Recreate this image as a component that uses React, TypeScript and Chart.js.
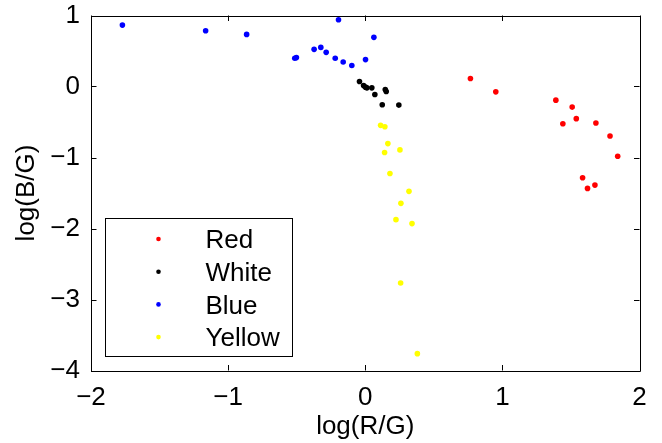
import React, { useEffect, useRef } from "react";
import { Chart, registerables } from "chart.js";

Chart.register(...registerables);

const seriesNames = ["Red", "White", "Blue", "Yellow"];
const seriesColors = ["#ff0000", "#000000", "#0000ff", "#ffff00"];

const redX = [0.767, 0.952, 1.39, 1.509, 1.441, 1.539, 1.682, 1.785, 1.841, 1.585, 1.621, 1.675];
const redY = [0.112, -0.075, -0.192, -0.29, -0.524, -0.453, -0.514, -0.697, -0.982, -1.286, -1.435, -1.389];

const whiteX = [-0.042, -0.012, 0.002, 0.012, 0.048, 0.07, 0.124, 0.146, 0.153, 0.245];
const whiteY = [0.07, 0.014, -0.009, -0.019, -0.019, -0.112, -0.257, -0.042, -0.07, -0.262];

const blueX = [-1.771, -1.164, -0.865, -0.514, -0.502, -0.373, -0.324, -0.285, -0.219, -0.195, -0.161, -0.098, 0.002, 0.063];
const blueY = [0.865, 0.785, 0.734, 0.397, 0.407, 0.523, 0.551, 0.481, 0.397, 0.94, 0.346, 0.295, 0.379, 0.692];

const yellowX = [0.112, 0.143, 0.165, 0.141, 0.253, 0.18, 0.319, 0.26, 0.224, 0.341, 0.258, 0.38];
const yellowY = [-0.547, -0.566, -0.804, -0.93, -0.893, -1.225, -1.477, -1.646, -1.875, -1.931, -2.768, -3.763];

const xTicks = [-2, -1, 0, 1, 2];
const yTicks = [-4, -3, -2, -1, 0, 1];

const FONT = "Liberation Sans, Arial, Helvetica, sans-serif";
const FS = 26;

const zip = (xs: number[], ys: number[]) => xs.map((x, i) => ({ x, y: ys[i] }));

const boxPlugin = {
  id: "matlabBox",
  afterDraw(chart: any) {
    const { ctx, chartArea } = chart;
    const { left, right, top, bottom } = chartArea;
    const xs = chart.scales.x;
    const ys = chart.scales.y;
    const tl = 5.5;
    ctx.save();
    ctx.strokeStyle = "#000";
    ctx.lineWidth = 1;
    ctx.beginPath();
    ctx.rect(Math.round(left) + 0.5, Math.round(top) + 0.5, Math.round(right - left), Math.round(bottom - top));
    ctx.stroke();
    ctx.beginPath();
    xTicks.forEach((v) => {
      const p = Math.round(xs.getPixelForValue(v)) + 0.5;
      ctx.moveTo(p, bottom);
      ctx.lineTo(p, bottom - tl);
      ctx.moveTo(p, top);
      ctx.lineTo(p, top + tl);
    });
    yTicks.forEach((v) => {
      const p = Math.round(ys.getPixelForValue(v)) + 0.5;
      ctx.moveTo(left, p);
      ctx.lineTo(left + tl, p);
      ctx.moveTo(right, p);
      ctx.lineTo(right - tl, p);
    });
    ctx.stroke();

    // legend
    const bx = Math.round(left + 14) + 0.5;
    const bw = 187;
    const bh = 138;
    const by = Math.round(bottom - 15 - bh) + 0.5;
    ctx.fillStyle = "#fff";
    ctx.fillRect(bx, by, bw, bh);
    ctx.strokeStyle = "#000";
    ctx.lineWidth = 1;
    ctx.strokeRect(bx, by, bw, bh);
    ctx.font = `${FS}px ${FONT}`;
    ctx.textAlign = "left";
    ctx.textBaseline = "alphabetic";
    chart.data.datasets.forEach((ds: any, i: number) => {
      const cy = by + 20.5 + i * 32.7;
      ctx.fillStyle = ds.backgroundColor;
      ctx.beginPath();
      ctx.arc(bx + 53, cy, 2.3, 0, Math.PI * 2);
      ctx.fill();
      ctx.fillStyle = "#000";
      ctx.fillText(ds.label, bx + 100, cy + 9.3);
    });
    ctx.restore();
  },
};

export default function App() {
  const ref = useRef<HTMLCanvasElement | null>(null);
  useEffect(() => {
    if (!ref.current) return;
    const seriesX = [redX, whiteX, blueX, yellowX];
    const seriesY = [redY, whiteY, blueY, yellowY];
    const chart = new Chart(ref.current, {
      type: "scatter",
      data: {
        datasets: seriesNames.map((name, i) => ({
          label: name,
          data: zip(seriesX[i], seriesY[i]),
          backgroundColor: seriesColors[i],
          borderColor: seriesColors[i],
          pointRadius: 2.8,
          pointBorderWidth: 0,
          pointHoverRadius: 2.8,
        })),
      },
      options: {
        animation: false,
        responsive: true,
        maintainAspectRatio: false,
        layout: { padding: { left: 0, right: 22.5, top: 15.5, bottom: 0 } },
        plugins: { legend: { display: false }, tooltip: { enabled: false } },
        scales: {
          x: {
            type: "linear",
            min: -2,
            max: 2,
            afterBuildTicks: (s: any) => {
              s.ticks = xTicks.map((v) => ({ value: v }));
            },
            afterFit: (s: any) => {
              s.height = 72.5;
              s.paddingLeft = 0;
              s.paddingRight = 0;
            },
            grid: { display: false, drawTicks: false },
            border: { display: false },
            ticks: {
              padding: 12,
              color: "#000",
              font: { family: FONT, size: FS },
              maxRotation: 0,
              autoSkip: false,
              callback: (v: any) => String(v).replace("-", "\u2212"),
            },
            title: {
              display: true,
              text: "log(R/G)",
              color: "#000",
              font: { family: FONT, size: FS },
              padding: { top: 0, bottom: 1 },
            },
          },
          y: {
            type: "linear",
            min: -4,
            max: 1,
            afterBuildTicks: (s: any) => {
              s.ticks = yTicks.map((v) => ({ value: v }));
            },
            afterFit: (s: any) => {
              s.width = 91;
              s.paddingTop = 0;
              s.paddingBottom = 0;
            },
            grid: { display: false, drawTicks: false },
            border: { display: false },
            ticks: {
              padding: 11,
              color: "#000",
              font: { family: FONT, size: FS },
              autoSkip: false,
              callback: (v: any) => String(v).replace("-", "\u2212"),
            },
            title: {
              display: true,
              text: "log(B/G)",
              color: "#000",
              font: { family: FONT, size: FS },
              padding: { top: 11, bottom: 0 },
            },
          },
        },
      },
      plugins: [boxPlugin],
    });
    return () => chart.destroy();
  }, []);
  return (
    <div style={{ position: "fixed", left: 0, top: 0, width: 662, height: 443, background: "#fff" }}>
      <canvas ref={ref} />
    </div>
  );
}
